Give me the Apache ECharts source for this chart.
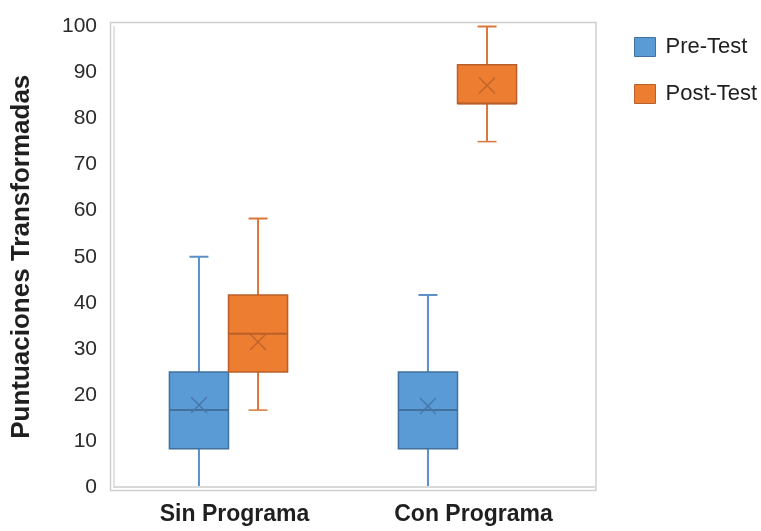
<!DOCTYPE html>
<html>
<head>
<meta charset="utf-8">
<script src="https://cdn.jsdelivr.net/npm/echarts@6/dist/echarts.min.js"></script>
<style>
html,body{margin:0;padding:0;background:#fff;}
#chart{width:761px;height:531px;}
</style>
</head>
<body>
<div id="chart"></div>
<script>
// ---- Data ----
const categories = ['Sin Programa', 'Con Programa'];
const seriesNames = ['Pre-Test', 'Post-Test'];
const preMin    = [0, 0];
const preQ1     = [8.3, 8.3];
const preMedian = [16.7, 16.7];
const preQ3     = [25, 25];
const preMax    = [50, 41.7];
const preMean   = [17.8, 17.6];
const postMin    = [16.7, 75];
const postQ1     = [25, 83.3];
const postMedian = [33.3, 83.3];
const postQ3     = [41.7, 91.7];
const postMax    = [58.3, 100];
const postMean   = [31.5, 87.2];
const yTicks = [0, 10, 20, 30, 40, 50, 60, 70, 80, 90, 100];

function rows(mn, q1, md, q3, mx, mean) {
  return categories.map((c, i) => [i, mn[i], q1[i], md[i], q3[i], mx[i], mean[i]]);
}

const styles = [
  {fill: '#5B9BD5', border: '#41719C', whisker: '#5B8FC9', mean: '#4677AD'},
  {fill: '#ED7D31', border: '#B9602A', whisker: '#D9773A', mean: '#C0652C'}
];

function renderBox(params, api) {
  const s = styles[params.seriesIndex];
  const idx = api.value(0);
  const band = api.size([1, 0])[0];
  const w = band * 0.258;
  const off = params.seriesIndex === 0 ? -w / 2 : w / 2;
  const cx = api.coord([idx, 0])[0] + off;
  const Y = v => api.coord([idx, v])[1];
  const yMin = Y(api.value(1)), yQ1 = Y(api.value(2)), yMed = Y(api.value(3)),
        yQ3 = Y(api.value(4)), yMax = Y(api.value(5)), yMean = Y(api.value(6));
  const cap = 9.5, xs = 8;
  const wl = {stroke: s.whisker, lineWidth: 2};
  return {
    type: 'group',
    children: [
      {type: 'line', shape: {x1: cx, y1: yMin, x2: cx, y2: yQ1}, style: wl},
      {type: 'line', shape: {x1: cx, y1: yQ3, x2: cx, y2: yMax}, style: wl},
      {type: 'line', shape: {x1: cx - cap, y1: yMin, x2: cx + cap, y2: yMin}, style: {stroke: s.whisker, lineWidth: 1.5}},
      {type: 'line', shape: {x1: cx - cap, y1: yMax, x2: cx + cap, y2: yMax}, style: wl},
      {type: 'rect', shape: {x: cx - w / 2, y: yQ3, width: w, height: yQ1 - yQ3},
        style: {fill: s.fill, stroke: s.border, lineWidth: 1.5}},
      {type: 'line', shape: {x1: cx - w / 2, y1: yMed, x2: cx + w / 2, y2: yMed},
        style: {stroke: s.border, lineWidth: 2}},
      {type: 'line', shape: {x1: cx - xs, y1: yMean - xs, x2: cx + xs, y2: yMean + xs},
        style: {stroke: s.mean, lineWidth: 1.5}},
      {type: 'line', shape: {x1: cx - xs, y1: yMean + xs, x2: cx + xs, y2: yMean - xs},
        style: {stroke: s.mean, lineWidth: 1.5}}
    ]
  };
}

const chart = echarts.init(document.getElementById('chart'));
const FONT = '"Liberation Sans", Arial, sans-serif';
chart.setOption({
  animation: false,
  backgroundColor: '#ffffff',
  textStyle: {fontFamily: FONT},
  graphic: [{
    type: 'rect', z: 0,
    shape: {x: 110.5, y: 22.5, width: 485.5, height: 468},
    style: {fill: 'none', stroke: '#d0d0d0', lineWidth: 1.5}
  }, {
    type: 'line', z: 0,
    shape: {x1: 572, y1: 487, x2: 595, y2: 487},
    style: {stroke: '#d9d9d9', lineWidth: 2}
  }],
  legend: {
    orient: 'vertical',
    left: 629, top: 31,
    itemWidth: 21, itemHeight: 19,
    itemGap: 25,
    textStyle: {fontSize: 22, color: '#1f1f1f', fontFamily: FONT, padding: [0, 0, 0, 5]},
    data: seriesNames.map((n, i) => ({
      name: n, icon: 'rect',
      itemStyle: {color: styles[i].fill, borderColor: styles[i].border, borderWidth: 1}
    }))
  },
  grid: {left: 114, right: 189, top: 26.5, bottom: 44},
  xAxis: {
    type: 'category',
    data: categories,
    z: 5,
    axisLine: {show: true, lineStyle: {color: '#d9d9d9', width: 2}},
    axisTick: {show: false},
    splitLine: {show: false},
    axisLabel: {
      margin: 16,
      formatter: (v, i) => '{c' + i + '|' + v + '}',
      rich: {
        c0: {fontSize: 23, fontWeight: 'bold', color: '#1f1f1f', fontFamily: FONT, padding: [0, 0, 0, 12]},
        c1: {fontSize: 23, fontWeight: 'bold', color: '#1f1f1f', fontFamily: FONT, padding: [0, 0, 0, 32]}
      }
    }
  },
  yAxis: {
    type: 'value',
    min: yTicks[0], max: yTicks[yTicks.length - 1], interval: yTicks[1] - yTicks[0],
    name: 'Puntuaciones Transformadas',
    nameLocation: 'middle',
    nameGap: 79,
    nameTextStyle: {fontSize: 26, fontWeight: 'bold', color: '#1f1f1f', fontFamily: FONT},
    axisLine: {show: true, lineStyle: {color: '#d9d9d9', width: 1.5}},
    axisTick: {show: false},
    splitLine: {show: false},
    axisLabel: {fontSize: 21, color: '#2b2b2b', margin: 17, fontFamily: FONT}
  },
  series: [
    {
      name: seriesNames[0], type: 'custom', z: 2,
      itemStyle: {color: styles[0].fill, borderColor: styles[0].border},
      encode: {x: 0, y: [1, 2, 3, 4, 5, 6]},
      data: rows(preMin, preQ1, preMedian, preQ3, preMax, preMean),
      renderItem: renderBox
    },
    {
      name: seriesNames[1], type: 'custom', z: 2,
      itemStyle: {color: styles[1].fill, borderColor: styles[1].border},
      encode: {x: 0, y: [1, 2, 3, 4, 5, 6]},
      data: rows(postMin, postQ1, postMedian, postQ3, postMax, postMean),
      renderItem: renderBox
    }
  ]
});
</script>
</body>
</html>
